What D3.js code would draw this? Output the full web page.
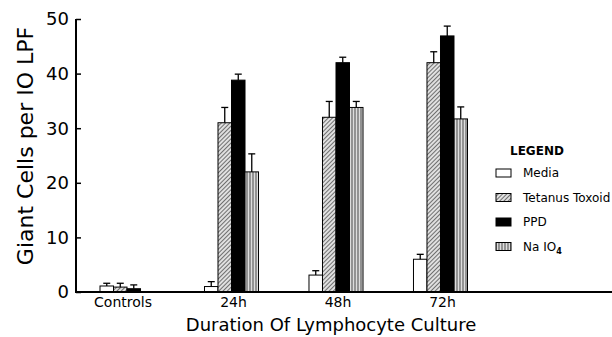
<!DOCTYPE html>
<html>
<head>
<meta charset="utf-8">
<script src="https://cdn.jsdelivr.net/npm/d3@7"></script>
<style>
  body { margin: 0; background: #fff; }
  svg { font-family: "DejaVu Sans", "Liberation Sans", sans-serif; }
</style>
</head>
<body>
<svg id="chart" width="612" height="337"></svg>
<script>
// data
const groups = ['Controls', '24h', '48h', '72h'];
const series = ['Media', 'Tetanus Toxoid', 'PPD', 'Na IO4'];
const values = [
  [1.1, 0.9, 0.6, null],
  [1.0, 31, 38.8, 22],
  [3.1, 32, 42, 33.8],
  [6.0, 42, 46.9, 31.7]
];
const errTops = [
  [1.6, 1.6, 1.3, null],
  [1.9, 33.8, 39.9, 25.3],
  [3.9, 34.9, 43, 34.9],
  [6.9, 44, 48.7, 33.9]
];
const yTicks = [0, 10, 20, 30, 40, 50];

const svg = d3.select('#chart');
const width = 612, height = 337;
const margin = { left: 76, top: 19, bottom: 45 };
const y0 = height - margin.bottom; // 292

// patterns
const defs = svg.append('defs');
const hatch = defs.append('pattern')
  .attr('id', 'hatch').attr('patternUnits', 'userSpaceOnUse')
  .attr('width', 3).attr('height', 3)
  .attr('patternTransform', 'rotate(45)');
hatch.append('rect').attr('width', 3).attr('height', 3).attr('fill', '#e0e0e0');
hatch.append('line').attr('x1', 0).attr('y1', 0).attr('x2', 0).attr('y2', 3)
  .attr('stroke', '#333').attr('stroke-width', 1.3);
const vlines = defs.append('pattern')
  .attr('id', 'vlines').attr('patternUnits', 'userSpaceOnUse')
  .attr('width', 3).attr('height', 3);
vlines.append('rect').attr('width', 3).attr('height', 3).attr('fill', '#ddd');
vlines.append('line').attr('x1', 1).attr('y1', 0).attr('x2', 1).attr('y2', 3)
  .attr('stroke', '#555').attr('stroke-width', 1.1);

const fills = ['#fff', 'url(#hatch)', '#000', 'url(#vlines)'];

const y = d3.scaleLinear().domain([0, 50]).range([y0, margin.top]);
const x = d3.scaleBand().domain(groups).range([100, 467.5]).paddingInner(0.483).paddingOuter(0);
const xs = d3.scaleBand().domain(d3.range(series.length)).range([0, x.bandwidth()]);

// bars
const g = svg.append('g');
groups.forEach(function(grp, gi) {
  series.forEach(function(s, si) {
    const v = values[gi][si];
    if (v === null) return;
    const bx = x(grp) + xs(si);
    g.append('rect')
      .attr('x', bx).attr('y', y(v))
      .attr('width', xs.bandwidth()).attr('height', y(0) - y(v))
      .attr('fill', fills[si]).attr('stroke', '#000').attr('stroke-width', 1);
    const e = errTops[gi][si];
    const cx = bx + xs.bandwidth() / 2;
    g.append('line').attr('x1', cx).attr('x2', cx).attr('y1', y(v)).attr('y2', y(e))
      .attr('stroke', '#000').attr('stroke-width', 1.3);
    g.append('line').attr('x1', cx - 3.5).attr('x2', cx + 3.5).attr('y1', y(e)).attr('y2', y(e))
      .attr('stroke', '#000').attr('stroke-width', 1.3);
  });
});

// axes
const yAxis = d3.axisRight(y).tickValues(yTicks).tickSize(5).tickFormat('');
const ya = svg.append('g').attr('transform', 'translate(' + margin.left + ',0)').call(yAxis);
ya.select('.domain').remove();
ya.selectAll('line').attr('stroke', '#000').attr('stroke-width', 1.5);
svg.append('line').attr('x1', margin.left).attr('x2', margin.left)
  .attr('y1', y(50)).attr('y2', y(0)).attr('stroke', '#000').attr('stroke-width', 2);
svg.append('line').attr('x1', margin.left - 1).attr('x2', width)
  .attr('y1', y(0)).attr('y2', y(0)).attr('stroke', '#000').attr('stroke-width', 2);

svg.append('g').selectAll('text').data(yTicks).join('text')
  .attr('x', margin.left - 7).attr('y', function(d) { return y(d); })
  .attr('dy', '0.36em').attr('text-anchor', 'end')
  .attr('font-size', 18).text(function(d) { return d; });

svg.append('g').selectAll('text').data(groups).join('text')
  .attr('x', function(d, i) { return x(d) + x.bandwidth() / 2 + (i === 0 ? -4 : 2); })
  .attr('y', 307).attr('text-anchor', 'middle')
  .attr('font-size', 14).text(function(d) { return d; });

// axis titles
svg.append('text').attr('x', 331).attr('y', 331).attr('text-anchor', 'middle')
  .attr('font-size', 18).text('Duration Of Lymphocyte Culture');
svg.append('text').attr('transform', 'translate(33,146) rotate(-90)')
  .attr('text-anchor', 'middle').attr('font-size', 22).text('Giant Cells per IO LPF');

// legend
const leg = svg.append('g');
leg.append('text').attr('x', 510).attr('y', 155).attr('font-size', 12)
  .attr('font-weight', 'bold').text('LEGEND');
series.forEach(function(s, si) {
  const ly = 169 + si * 24.5;
  leg.append('rect').attr('x', 496).attr('y', ly).attr('width', 15).attr('height', 8)
    .attr('fill', fills[si]).attr('stroke', '#000').attr('stroke-width', 1);
  const t = leg.append('text').attr('x', 523).attr('y', ly + 8).attr('font-size', 12);
  if (s === 'Na IO4') {
    t.text('Na IO');
    t.append('tspan').attr('font-size', 8).attr('dy', 3).attr('font-weight', 'bold').text('4');
  } else {
    t.text(s);
  }
});
</script>
</body>
</html>
